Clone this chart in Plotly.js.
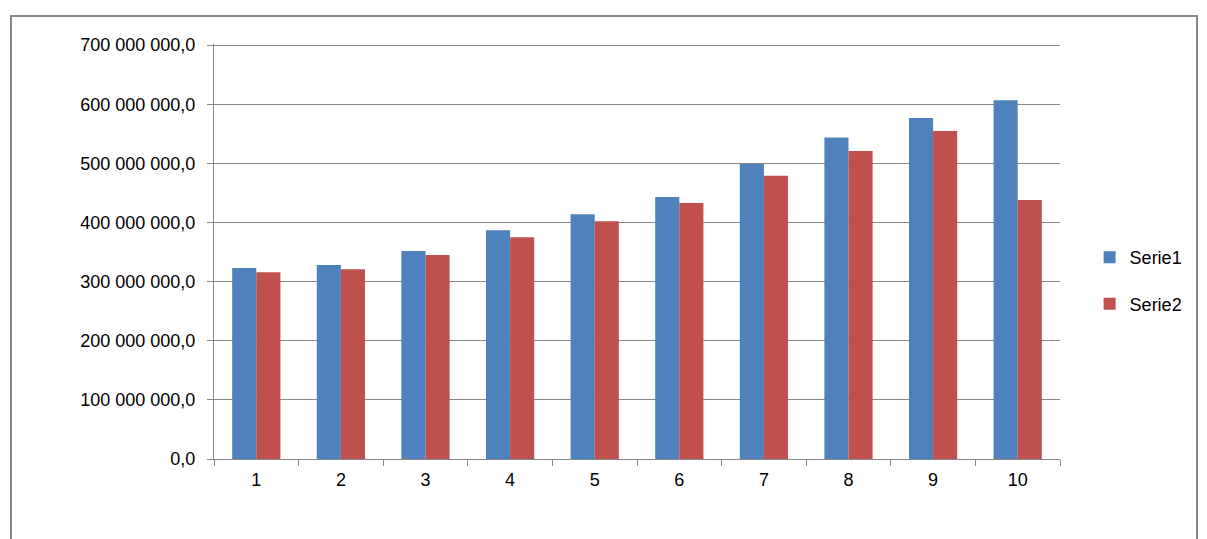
<!DOCTYPE html>
<html><head><meta charset="utf-8">
<script src="https://cdn.plot.ly/plotly-3.0.1.min.js"></script>
<style>
html,body{margin:0;padding:0;background:#fff;}
#frame{position:absolute;left:10px;top:15px;width:1188px;height:530px;border:2px solid #888;box-sizing:border-box;}
#chart{position:absolute;left:0;top:0;width:1207px;height:539px;}
</style></head>
<body><div id="frame"></div><div id="chart"></div>
<script>
const categories = ['1','2','3','4','5','6','7','8','9','10'];
const serie1 = [323e6, 328e6, 352e6, 387e6, 414e6, 443e6, 499e6, 544e6, 577e6, 607e6];
const serie2 = [316e6, 321e6, 345e6, 375e6, 402e6, 433e6, 479e6, 521e6, 555e6, 438e6];
const yTicks = [0,100e6,200e6,300e6,400e6,500e6,600e6,700e6];

const data = [
 {type:'bar', name:'Serie1', legendgroup:'a', x:categories, y:serie1, marker:{color:'#4F81BD'}},
 {type:'bar', name:'Serie2', legendgroup:'b', x:categories, y:serie2, marker:{color:'#C0504D'}}
];
const layout = {
 width:1207, height:539, paper_bgcolor:'rgba(0,0,0,0)', plot_bgcolor:'rgba(0,0,0,0)',
 margin:{l:214, r:147, t:44, b:80},
 separators:', ',
 font:{family:'Liberation Sans, Arial, sans-serif', size:18, color:'#000'},
 barmode:'group', bargap:0.43, bargroupgap:0,
 showlegend:true,
 legend:{x:1.035, y:0.43, yanchor:'middle', xanchor:'left', font:{size:18}, tracegroupgap:20},
 xaxis:{type:'category', tickson:'boundaries', ticks:'outside', ticklen:6, tickcolor:'#888',
   showline:true, linecolor:'#888', linewidth:1, showgrid:false, tickfont:{size:18}, ticklabelstandoff:4},
 yaxis:{range:[0,702e6], tickvals:yTicks, tickformat:',.1f', ticks:'outside', ticklen:6, tickcolor:'#888',
   showline:true, linecolor:'#888', showgrid:true, gridcolor:'#888', gridwidth:1, zeroline:false,
   tickfont:{size:18}, ticklabelstandoff:8}
};
Plotly.newPlot('chart', data, layout, {displayModeBar:false, staticPlot:true});
</script></body></html>
